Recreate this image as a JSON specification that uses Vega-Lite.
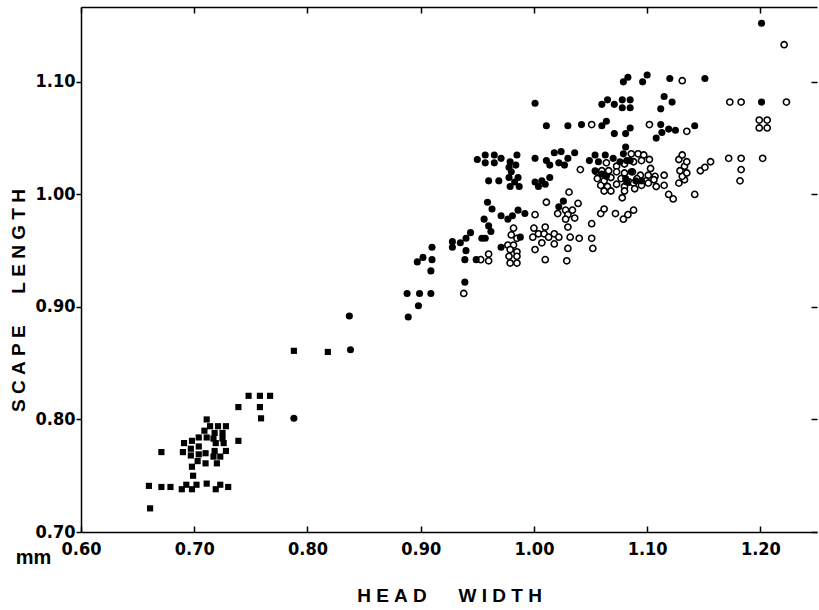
{
  "$schema": "https://vega.github.io/schema/vega-lite/v6.json",
  "width": 736,
  "height": 525,
  "autosize": {"type": "none"},
  "padding": {"left": 81, "top": 7, "right": 2, "bottom": 78},
  "background": "white",
  "config": {
    "view": {"stroke": null},
    "axis": {
      "grid": false,
      "domainColor": "black",
      "domainWidth": 1.5,
      "tickColor": "black",
      "tickWidth": 1.5,
      "labelColor": "black",
      "labelFont": "Liberation Sans Narrow, DejaVu Sans Condensed, Liberation Sans",
      "labelFontWeight": "bold",
      "labelFontSize": 18,
      "labelFlush": false,
      "labelOverlap": false,
      "titleColor": "black",
      "titleFont": "Liberation Sans, Arial, sans-serif",
      "titleFontWeight": "bold",
      "titleFontSize": 19
    }
  },
  "datasets": {
    "squares": [
      {"x":0.661,"y":0.721},{"x":0.660,"y":0.741},{"x":0.671,"y":0.740},{"x":0.679,"y":0.740},{"x":0.689,"y":0.738},{"x":0.693,"y":0.742},{"x":0.698,"y":0.738},{"x":0.702,"y":0.742},{"x":0.711,"y":0.743},{"x":0.719,"y":0.738},{"x":0.723,"y":0.742},{"x":0.730,"y":0.740},
      {"x":0.699,"y":0.750},{"x":0.698,"y":0.758},{"x":0.703,"y":0.763},{"x":0.710,"y":0.761},{"x":0.720,"y":0.761},
      {"x":0.671,"y":0.771},{"x":0.690,"y":0.771},{"x":0.697,"y":0.774},{"x":0.704,"y":0.776},{"x":0.697,"y":0.768},{"x":0.704,"y":0.769},{"x":0.710,"y":0.770},{"x":0.718,"y":0.772},{"x":0.728,"y":0.772},{"x":0.717,"y":0.767},{"x":0.723,"y":0.767},
      {"x":0.691,"y":0.779},{"x":0.698,"y":0.781},{"x":0.704,"y":0.784},{"x":0.709,"y":0.790},{"x":0.711,"y":0.800},{"x":0.714,"y":0.794},{"x":0.721,"y":0.794},{"x":0.728,"y":0.794},{"x":0.718,"y":0.788},{"x":0.725,"y":0.788},{"x":0.711,"y":0.784},{"x":0.717,"y":0.783},{"x":0.725,"y":0.783},{"x":0.719,"y":0.779},{"x":0.726,"y":0.779},
      {"x":0.739,"y":0.781},{"x":0.739,"y":0.811},{"x":0.748,"y":0.821},{"x":0.758,"y":0.821},{"x":0.767,"y":0.821},{"x":0.758,"y":0.811},{"x":0.759,"y":0.801},{"x":0.788,"y":0.861},{"x":0.818,"y":0.860}
    ],
    "filled": [
      {"x":0.788,"y":0.801},{"x":0.838,"y":0.862},{"x":0.837,"y":0.892},{"x":0.889,"y":0.891},{"x":0.888,"y":0.912},{"x":0.899,"y":0.912},{"x":0.898,"y":0.901},{"x":0.909,"y":0.912},{"x":0.909,"y":0.932},{"x":0.910,"y":0.942},{"x":0.910,"y":0.953},{"x":0.897,"y":0.940},{"x":0.902,"y":0.944},{"x":0.928,"y":0.958},{"x":0.928,"y":0.953},{"x":0.935,"y":0.957},{"x":0.940,"y":0.961},{"x":0.944,"y":0.966},{"x":0.940,"y":0.950},{"x":0.939,"y":0.942},{"x":0.949,"y":0.942},{"x":0.939,"y":0.922},
      {"x":0.954,"y":0.961},{"x":0.957,"y":0.961},{"x":0.960,"y":0.972},{"x":0.962,"y":0.967},{"x":0.971,"y":0.953},{"x":0.988,"y":0.962},
      {"x":0.959,"y":0.993},{"x":0.963,"y":0.987},{"x":0.956,"y":0.978},{"x":0.971,"y":0.981},{"x":0.977,"y":0.978},{"x":0.981,"y":0.981},{"x":0.986,"y":0.986},{"x":0.992,"y":0.983},
      {"x":0.950,"y":1.031},{"x":0.957,"y":1.035},{"x":0.965,"y":1.035},{"x":0.957,"y":1.028},{"x":0.965,"y":1.028},{"x":0.971,"y":1.032},{"x":0.979,"y":1.029},{"x":0.985,"y":1.035},{"x":0.978,"y":1.024},{"x":0.984,"y":1.026},{"x":0.980,"y":1.020},{"x":0.960,"y":1.012},{"x":0.969,"y":1.012},{"x":0.978,"y":1.015},{"x":0.986,"y":1.015},{"x":0.979,"y":1.007},{"x":0.987,"y":1.007},{"x":0.983,"y":1.011},
      {"x":1.001,"y":1.032},{"x":1.011,"y":1.030},{"x":1.018,"y":1.037},{"x":1.024,"y":1.038},{"x":1.030,"y":1.032},{"x":1.036,"y":1.037},{"x":1.014,"y":1.026},{"x":1.022,"y":1.028},{"x":1.027,"y":1.026},{"x":1.001,"y":1.011},{"x":1.007,"y":1.012},{"x":1.014,"y":1.015},{"x":1.004,"y":1.007},{"x":1.010,"y":1.009},{"x":1.022,"y":0.989},{"x":1.026,"y":0.994},
      {"x":1.054,"y":1.035},{"x":1.049,"y":1.030},{"x":1.057,"y":1.029},{"x":1.063,"y":1.035},{"x":1.070,"y":1.032},{"x":1.079,"y":1.036},{"x":1.081,"y":1.042},{"x":1.076,"y":1.029},{"x":1.054,"y":1.021},{"x":1.060,"y":1.018},{"x":1.082,"y":1.030},{"x":1.085,"y":1.030},{"x":1.081,"y":1.014},{"x":1.082,"y":1.011},{"x":1.090,"y":1.012},{"x":1.095,"y":1.012},{"x":1.086,"y":1.020},{"x":1.064,"y":1.016},
      {"x":1.001,"y":1.081},{"x":1.011,"y":1.061},{"x":1.030,"y":1.061},{"x":1.042,"y":1.062},{"x":1.060,"y":1.061},{"x":1.064,"y":1.065},{"x":1.071,"y":1.054},{"x":1.081,"y":1.054},{"x":1.085,"y":1.059},
      {"x":1.060,"y":1.080},{"x":1.065,"y":1.084},{"x":1.071,"y":1.080},{"x":1.078,"y":1.084},{"x":1.078,"y":1.077},{"x":1.085,"y":1.084},{"x":1.085,"y":1.077},
      {"x":1.079,"y":1.100},{"x":1.083,"y":1.104},{"x":1.096,"y":1.100},{"x":1.100,"y":1.106},{"x":1.120,"y":1.103},{"x":1.151,"y":1.103},
      {"x":1.115,"y":1.087},{"x":1.122,"y":1.082},{"x":1.112,"y":1.076},{"x":1.112,"y":1.062},{"x":1.113,"y":1.055},{"x":1.108,"y":1.050},{"x":1.119,"y":1.058},{"x":1.125,"y":1.057},{"x":1.142,"y":1.061},
      {"x":1.201,"y":1.152},{"x":1.201,"y":1.082}
    ],
    "open": [
      {"x":0.938,"y":0.912},{"x":0.953,"y":0.942},{"x":0.960,"y":0.941},{"x":0.960,"y":0.947},
      {"x":0.982,"y":0.970},{"x":0.980,"y":0.964},{"x":0.985,"y":0.961},{"x":0.977,"y":0.955},{"x":0.982,"y":0.955},{"x":0.979,"y":0.951},{"x":0.985,"y":0.949},{"x":0.978,"y":0.945},{"x":0.985,"y":0.945},{"x":0.979,"y":0.939},{"x":0.985,"y":0.939},
      {"x":1.001,"y":0.982},{"x":1.000,"y":0.970},{"x":1.010,"y":0.971},{"x":1.004,"y":0.965},{"x":0.999,"y":0.962},{"x":1.009,"y":0.965},{"x":1.013,"y":0.962},{"x":1.018,"y":0.965},{"x":1.007,"y":0.957},{"x":1.018,"y":0.956},{"x":1.001,"y":0.951},{"x":1.010,"y":0.942},{"x":1.022,"y":0.962},{"x":1.011,"y":0.993},
      {"x":1.031,"y":1.002},{"x":1.021,"y":0.983},{"x":1.028,"y":0.986},{"x":1.034,"y":0.986},{"x":1.030,"y":0.982},{"x":1.028,"y":0.978},{"x":1.036,"y":0.979},{"x":1.039,"y":0.992},{"x":1.030,"y":0.971},{"x":1.032,"y":0.962},{"x":1.040,"y":0.961},{"x":1.030,"y":0.952},{"x":1.029,"y":0.941},{"x":1.051,"y":0.974},{"x":1.051,"y":0.961},{"x":1.052,"y":0.952},{"x":1.041,"y":1.022},
      {"x":1.059,"y":0.983},{"x":1.062,"y":0.987},{"x":1.072,"y":0.983},{"x":1.079,"y":0.978},{"x":1.083,"y":0.982},{"x":1.088,"y":0.986},
      {"x":1.086,"y":1.036},{"x":1.092,"y":1.036},{"x":1.097,"y":1.035},{"x":1.102,"y":1.031},
      {"x":1.064,"y":1.028},{"x":1.073,"y":1.025},{"x":1.080,"y":1.027},{"x":1.088,"y":1.029},{"x":1.095,"y":1.030},{"x":1.103,"y":1.023},
      {"x":1.055,"y":1.020},{"x":1.060,"y":1.021},{"x":1.066,"y":1.021},{"x":1.073,"y":1.020},{"x":1.080,"y":1.019},{"x":1.087,"y":1.020},{"x":1.094,"y":1.017},{"x":1.101,"y":1.017},{"x":1.107,"y":1.016},
      {"x":1.056,"y":1.014},{"x":1.062,"y":1.012},{"x":1.068,"y":1.015},{"x":1.077,"y":1.014},{"x":1.084,"y":1.011},{"x":1.091,"y":1.014},{"x":1.099,"y":1.012},{"x":1.106,"y":1.013},
      {"x":1.059,"y":1.008},{"x":1.065,"y":1.007},{"x":1.073,"y":1.009},{"x":1.080,"y":1.007},{"x":1.088,"y":1.010},{"x":1.095,"y":1.008},{"x":1.101,"y":1.010},{"x":1.108,"y":1.007},
      {"x":1.062,"y":1.003},{"x":1.068,"y":1.003},{"x":1.080,"y":1.003},{"x":1.089,"y":1.005},{"x":1.078,"y":0.997},
      {"x":1.051,"y":1.062},{"x":1.102,"y":1.062},{"x":1.131,"y":1.101},{"x":1.135,"y":1.056},
      {"x":1.173,"y":1.082},{"x":1.183,"y":1.082},{"x":1.223,"y":1.082},{"x":1.221,"y":1.133},{"x":1.199,"y":1.066},{"x":1.206,"y":1.066},{"x":1.199,"y":1.059},{"x":1.206,"y":1.059},
      {"x":1.172,"y":1.032},{"x":1.183,"y":1.032},{"x":1.183,"y":1.022},{"x":1.182,"y":1.012},{"x":1.202,"y":1.032},
      {"x":1.119,"y":1.000},{"x":1.123,"y":0.996},{"x":1.142,"y":1.000},{"x":1.128,"y":1.010},{"x":1.133,"y":1.013},{"x":1.131,"y":1.016},{"x":1.135,"y":1.019},{"x":1.129,"y":1.021},{"x":1.133,"y":1.025},{"x":1.128,"y":1.031},{"x":1.135,"y":1.029},{"x":1.131,"y":1.035},{"x":1.147,"y":1.021},{"x":1.151,"y":1.024},{"x":1.156,"y":1.029},
      {"x":1.115,"y":1.017},{"x":1.115,"y":1.008}
    ]
  },
  "resolve": {"axis": {"x": "independent", "y": "independent"}},
  "layer": [
    {
      "data": {"name": "open"},
      "mark": {"type": "point", "shape": "circle", "filled": false, "fill": "white", "stroke": "black", "strokeWidth": 1.6, "size": 38, "opacity": 1},
      "encoding": {
        "x": {"field": "x", "type": "quantitative", "scale": {"domain": [0.6, 1.25], "nice": false, "zero": false},
          "axis": {"orient": "top", "values": [0.6, 0.7, 0.8, 0.9, 1.0, 1.1, 1.2], "labels": false, "tickSize": -6, "domain": true,
            "title": "mm", "titleFont": "Liberation Sans, Arial, sans-serif", "titleFontSize": 20, "titleFontWeight": "bold",
            "titleX": -48, "titleY": 556, "titleAlign": "center", "titleBaseline": "alphabetic", "titleAngle": 0}},
        "y": {"field": "y", "type": "quantitative", "scale": {"domain": [0.7, 1.1665], "nice": false, "zero": false},
          "axis": {"orient": "right", "values": [0.7, 0.8, 0.9, 1.0, 1.1], "labels": false, "tickSize": -6, "domain": false, "title": null}}
      }
    },
    {
      "data": {"name": "filled"},
      "mark": {"type": "point", "shape": "circle", "filled": true, "color": "black", "size": 50, "opacity": 1},
      "encoding": {
        "x": {"field": "x", "type": "quantitative",
          "axis": {"orient": "bottom", "values": [0.6, 0.7, 0.8, 0.9, 1.0, 1.1, 1.2], "format": ".2f", "tickSize": -6, "labelPadding": 14,
            "title": "H\u00a0E\u00a0A\u00a0D\u00a0\u00a0\u00a0\u00a0\u00a0\u00a0W\u00a0I\u00a0D\u00a0T\u00a0H", "titleX": 368, "titleY": 69, "titleAlign": "center", "titleBaseline": "alphabetic"}},
        "y": {"field": "y", "type": "quantitative",
          "axis": {"orient": "left", "values": [0.7, 0.8, 0.9, 1.0, 1.1], "format": ".2f", "tickSize": 5, "labelPadding": 1,
            "title": "S\u00a0C\u00a0A\u00a0P\u00a0E\u00a0\u00a0\u00a0\u00a0\u00a0\u00a0L\u00a0E\u00a0N\u00a0G\u00a0T\u00a0H", "titleX": -63, "titleY": 293, "titleAngle": -90, "titleAlign": "center", "titleBaseline": "middle"}}
      }
    },
    {
      "data": {"name": "squares"},
      "mark": {"type": "square", "filled": true, "color": "black", "size": 38, "opacity": 1},
      "encoding": {
        "x": {"field": "x", "type": "quantitative", "axis": null},
        "y": {"field": "y", "type": "quantitative", "axis": null}
      }
    }
  ]
}
